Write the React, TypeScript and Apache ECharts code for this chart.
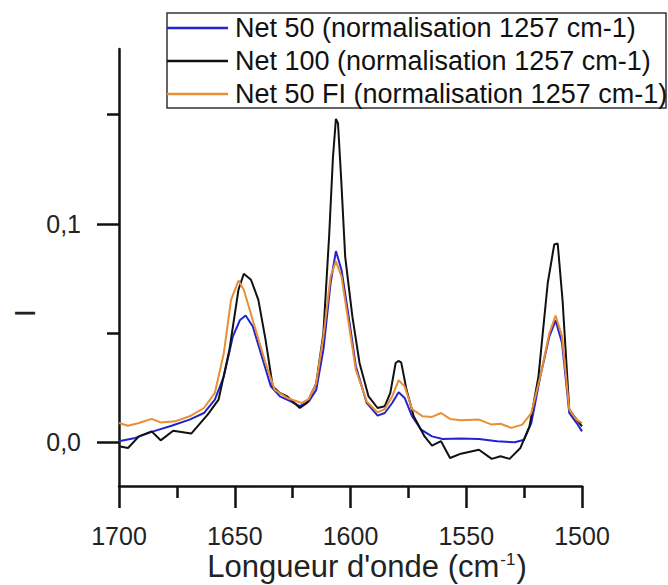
import React, { useEffect, useRef } from "react";
import * as echarts from "echarts";

const FONT = "'Liberation Sans', Arial, sans-serif";

const seriesNames = [
  "Net 50 (normalisation 1257 cm-1)",
  "Net 100 (normalisation 1257 cm-1)",
  "Net 50 FI (normalisation 1257 cm-1)",
];
const seriesColors = ["#2323cf", "#111111", "#e88e35"];

const xMajorTicks = [1700, 1650, 1600, 1550, 1500];
const xMinorTicks = [1675, 1625, 1575, 1525];
const yLabelTicks = [0, 0.1];
const yMinorTicks = [0.05, 0.15];

const net50X = [1700, 1693, 1685.2, 1677.3, 1669.5, 1663.3, 1658.6, 1654.7, 1650.8, 1647.7, 1645.3, 1642.2, 1638.3, 1634.4, 1630.5, 1625.8, 1621.9, 1618, 1614.8, 1611.7, 1608.6, 1606.3, 1603.9, 1600.8, 1597.7, 1593, 1588.3, 1585.2, 1582, 1579.2, 1576.6, 1573.4, 1569.5, 1564.8, 1560.2, 1552.3, 1544.5, 1536.7, 1529, 1525, 1521.9, 1518, 1514.1, 1511.4, 1508.6, 1505.5, 1502.3, 1500];
const net50Y = [0.0005, 0.002, 0.005, 0.0076, 0.0104, 0.0134, 0.0195, 0.0302, 0.0485, 0.056, 0.058, 0.053, 0.0393, 0.0256, 0.021, 0.0187, 0.0165, 0.0187, 0.024, 0.0424, 0.0729, 0.0875, 0.079, 0.0576, 0.0348, 0.018, 0.0122, 0.0134, 0.018, 0.0229, 0.0203, 0.0119, 0.0058, 0.0027, 0.0015, 0.0017, 0.0015, 0.0005, 0, 0.0012, 0.0088, 0.0302, 0.0485, 0.0558, 0.0454, 0.0134, 0.0088, 0.005];

const net100X = [1700, 1696.1, 1691.4, 1685.9, 1682, 1676.6, 1668.8, 1661.7, 1657, 1652.3, 1648.4, 1646.1, 1643, 1639.8, 1636.7, 1633.6, 1630.5, 1627.3, 1621.9, 1618.8, 1614.8, 1611.7, 1609.2, 1607.6, 1606.3, 1605.4, 1604, 1602.3, 1599.2, 1596.1, 1592.2, 1588.3, 1585.2, 1582.8, 1580.5, 1579.3, 1578.1, 1575.8, 1572.7, 1568, 1564.8, 1560.9, 1557, 1552.3, 1544.5, 1539, 1535.2, 1531.3, 1526.6, 1522.7, 1518.8, 1514.8, 1512, 1510.5, 1508.4, 1505.5, 1502.3, 1500];
const net100Y = [-0.0018, -0.0026, 0.0027, 0.005, 0.0009, 0.0053, 0.004, 0.0127, 0.0195, 0.0424, 0.0698, 0.0771, 0.0744, 0.0652, 0.047, 0.0256, 0.0226, 0.021, 0.0157, 0.018, 0.027, 0.05, 0.095, 0.13, 0.148, 0.146, 0.12, 0.085, 0.0576, 0.0363, 0.021, 0.0157, 0.0165, 0.0226, 0.0363, 0.0372, 0.0366, 0.024, 0.0119, 0.0027, -0.0015, 0.0005, -0.0072, -0.0052, -0.0034, -0.0076, -0.0064, -0.0076, -0.0026, 0.0073, 0.0302, 0.0729, 0.0905, 0.091, 0.065, 0.015, 0.0104, 0.0073];

const net50FIX = [1700, 1696.1, 1691.4, 1685.9, 1682, 1675.8, 1669.5, 1663.3, 1658.6, 1654.7, 1651.6, 1648.4, 1646.1, 1641.4, 1636.7, 1632.8, 1627.3, 1621.1, 1618, 1614.8, 1611.7, 1608.6, 1606.3, 1603.9, 1600.8, 1597.7, 1593, 1588.3, 1585.2, 1582, 1579.2, 1576.6, 1573.4, 1568.8, 1564.8, 1560.9, 1557, 1552.3, 1544.5, 1539, 1535.2, 1530.5, 1525.8, 1521.9, 1518, 1514.1, 1511.4, 1508.6, 1505.5, 1502.3, 1500];
const net50FIY = [0.0088, 0.0076, 0.0088, 0.0107, 0.0091, 0.0096, 0.0119, 0.0157, 0.0226, 0.0409, 0.0652, 0.074, 0.0698, 0.053, 0.0363, 0.0241, 0.0203, 0.018, 0.0198, 0.027, 0.0485, 0.0759, 0.0828, 0.0759, 0.0546, 0.0332, 0.0187, 0.0137, 0.0152, 0.021, 0.0284, 0.0256, 0.0152, 0.0119, 0.0116, 0.0134, 0.0107, 0.0101, 0.0104, 0.0081, 0.0085, 0.0066, 0.0081, 0.0134, 0.0302, 0.05, 0.058, 0.0485, 0.0149, 0.0104, 0.0088];

const zip = (xs: number[], ys: number[]) => xs.map((x, i) => [x, ys[i]]);

export default function App() {
  const ref = useRef<HTMLDivElement>(null);
  useEffect(() => {
    document.body.style.margin = "0";
    const chart = echarts.init(ref.current!, null, { renderer: "svg" });
    const axisColor = "#111";
    const allSeries = [zip(net50X, net50Y), zip(net100X, net100Y), zip(net50FIX, net50FIY)];

    const legendLeft = 167;
    const legendTop = 13;
    const rowY = [28, 61, 94];
    const legendGraphics: any[] = [
      {
        type: "rect",
        shape: { x: legendLeft, y: legendTop, width: 499, height: 95 },
        style: { fill: "#fff", stroke: "#333", lineWidth: 1.5 },
        z: 10,
      },
    ];
    seriesNames.forEach((name, i) => {
      legendGraphics.push({
        type: "line",
        shape: { x1: legendLeft, y1: rowY[i], x2: legendLeft + 61, y2: rowY[i] },
        style: { stroke: seriesColors[i], lineWidth: 2.5 },
        z: 11,
      });
      legendGraphics.push({
        type: "text",
        x: legendLeft + 68,
        y: rowY[i],
        style: { text: name, fontSize: 27, fontFamily: FONT, fill: "#111", align: "left", verticalAlign: "middle" },
        z: 11,
      });
    });

    const xBase = {
      type: "value",
      min: 1500,
      max: 1700,
      inverse: true,
      position: "bottom",
      splitLine: { show: false },
    };

    chart.setOption({
      animation: false,
      backgroundColor: "#fff",
      grid: { left: 119, right: 86, top: 49, bottom: 99 },
      xAxis: [
        {
          ...xBase,
          axisLine: { show: true, onZero: false, lineStyle: { color: axisColor, width: 2.5 } },
          axisTick: { show: true, length: 22, inside: false, customValues: xMajorTicks, lineStyle: { color: axisColor, width: 2.5 } },
          axisLabel: {
            show: true,
            fontSize: 25,
            fontFamily: FONT,
            color: "#222",
            margin: 37,
            customValues: xMajorTicks,
            formatter: (v: number) => String(v),
          },
        },
        {
          ...xBase,
          axisLine: { show: false, onZero: false },
          axisTick: { show: true, length: 12, inside: false, customValues: xMinorTicks, lineStyle: { color: axisColor, width: 2.5 } },
          axisLabel: { show: false },
        },
      ],
      yAxis: [
        {
          type: "value",
          min: -0.02,
          max: 0.18,
          position: "left",
          axisLine: { show: true, onZero: false, lineStyle: { color: axisColor, width: 2.5 } },
          axisTick: { show: true, length: 22, customValues: yLabelTicks, lineStyle: { color: axisColor, width: 2.5 } },
          axisLabel: {
            fontSize: 25,
            fontFamily: FONT,
            color: "#222",
            margin: 38,
            customValues: yLabelTicks,
            formatter: (v: number) => v.toFixed(1).replace(".", ","),
          },
          splitLine: { show: false },
        },
        {
          type: "value",
          min: -0.02,
          max: 0.18,
          position: "left",
          axisLine: { show: false },
          axisTick: { show: true, length: 12, customValues: yMinorTicks, lineStyle: { color: axisColor, width: 2.5 } },
          axisLabel: { show: false },
          splitLine: { show: false },
        },
      ],
      graphic: [
        {
          type: "text",
          x: 24,
          y: 313,
          rotation: Math.PI / 2,
          style: { text: "I", fontSize: 30, fontFamily: FONT, fill: "#222", align: "center", verticalAlign: "middle" },
        },
        {
          type: "text",
          x: 367,
          y: 566,
          style: {
            text: "{a|Longueur d'onde (cm}{s|-1}{a|)}",
            align: "center",
            verticalAlign: "middle",
            rich: {
              a: { fontSize: 31, fontFamily: FONT, fill: "#222", lineHeight: 31, verticalAlign: "bottom" },
              s: { fontSize: 17, fontFamily: FONT, fill: "#222", lineHeight: 31, verticalAlign: "top", padding: [0, 1, 0, 1] },
            },
          },
        },
        ...legendGraphics,
      ],
      series: seriesNames.map((name, i) => ({
        name,
        type: "line",
        data: allSeries[i],
        symbol: "none",
        xAxisIndex: 0,
        yAxisIndex: 0,
        lineStyle: { color: seriesColors[i], width: 2 },
        itemStyle: { color: seriesColors[i] },
      })),
    });
    return () => chart.dispose();
  }, []);
  return <div ref={ref} style={{ width: 668, height: 585 }} />;
}
